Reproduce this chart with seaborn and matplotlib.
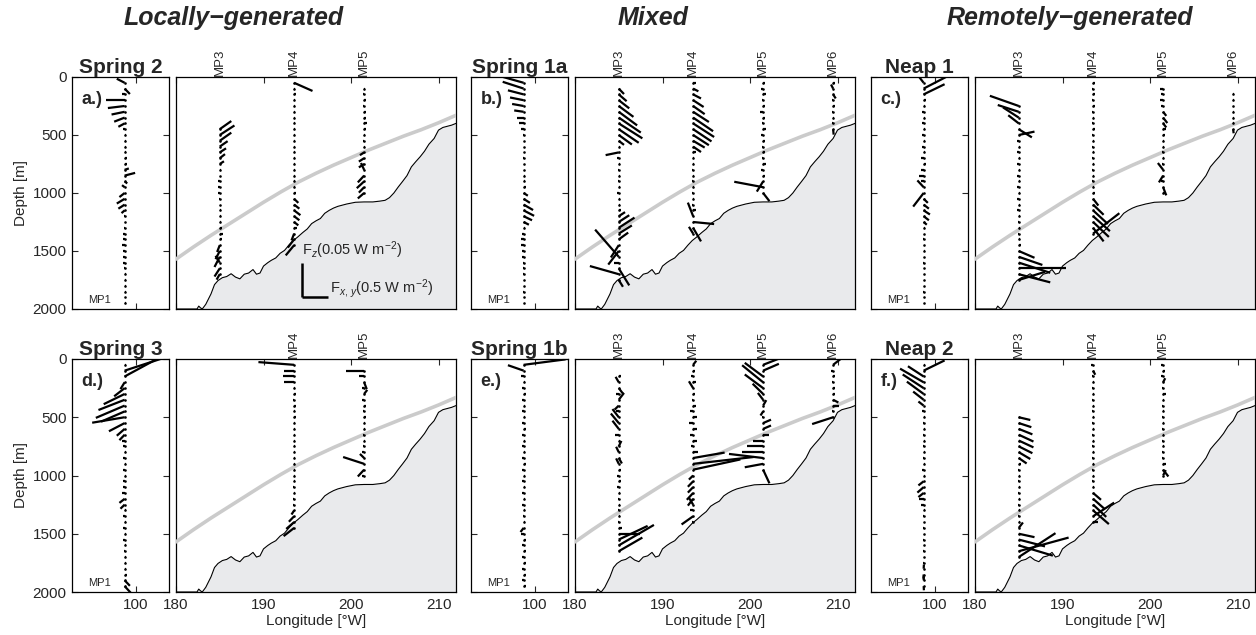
import numpy as np
import pandas as pd
import matplotlib
matplotlib.use("Agg")
import matplotlib.pyplot as plt
import matplotlib.transforms as mtransforms
import seaborn as sns

sns.set_style("ticks")
plt.rcParams["font.family"] = ["Liberation Sans", "DejaVu Sans"]
plt.rcParams["mathtext.fontset"] = "custom"
plt.rcParams["mathtext.rm"] = "Liberation Sans"
plt.rcParams["mathtext.it"] = "Liberation Sans:italic"
plt.rcParams["axes.linewidth"] = 0.9
plt.rcParams["axes.edgecolor"] = "black"

# ---------------------------------------------------------------- data
COLUMN_TITLES = ["Locally\u2212generated", "Mixed", "Remotely\u2212generated"]
PANEL_TITLES = ["Spring 2", "Spring 1a", "Neap 1", "Spring 3", "Spring 1b", "Neap 2"]
PANEL_LETTERS = ["a.)", "b.)", "c.)", "d.)", "e.)", "f.)"]

MOORING_LON = {"MP1": 98.7, "MP3": 185.0, "MP4": 193.5, "MP5": 201.5, "MP6": 209.5}
DZ = 50  # vertical spacing of flux estimates [m]

DEPTH_TICKS = [0, 500, 1000, 1500, 2000]
LON_TICKS = [180, 190, 200, 210]
MP1_TICKS = [100]

# bathymetry along the section
BATHY_LON = [180.0, 182.4, 182.6, 182.8, 183.0, 183.4, 184.0, 184.4, 184.8, 185.3,
             185.8, 186.3, 186.8, 187.3, 187.8, 188.3, 188.8, 189.2, 189.6, 190.0,
             190.5, 190.9, 191.4, 191.9, 192.4, 192.9, 193.4, 193.9, 194.5, 195.0,
             195.5, 196.0, 196.5, 197.0, 197.5, 198.0, 198.5, 199.5, 200.5, 201.5,
             202.5, 203.3, 203.9, 204.4, 204.9, 205.4, 205.9, 206.4, 206.9, 207.4,
             207.9, 208.4, 208.9, 209.5, 210.0, 210.5, 211.0, 211.5, 212.0]
BATHY_Z = [2000, 2000, 1975, 1990, 2000, 1960, 1870, 1790, 1755, 1730,
           1720, 1696, 1725, 1740, 1700, 1690, 1660, 1700, 1690, 1630,
           1600, 1580, 1560, 1520, 1495, 1450, 1410, 1380, 1340, 1310,
           1264, 1240, 1220, 1175, 1150, 1130, 1115, 1095, 1080, 1077,
           1077, 1070, 1063, 1040, 1000, 948, 900, 850, 775, 730,
           688, 640, 580, 530, 458, 435, 425, 415, 400]

# critical-slope characteristic (grey line)
CRIT_LON = [180, 182, 184, 186, 188, 190, 192, 194, 196, 198, 200, 202, 204, 206, 208, 210, 212]
CRIT_Z = [1570, 1465, 1365, 1270, 1175, 1080, 990, 905, 830, 760, 695, 630, 570, 510, 455, 395, 330]

# scale key: flux magnitudes and their drawn lengths
KEY_FX = 0.5      # W m^-2
KEY_FZ = 0.05     # W m^-2
KEY_FX_DEG = 3.0  # longitude degrees per KEY_FX
KEY_FZ_M = 293.0  # metres per KEY_FZ
KEY_ORIGIN = (194.4, 1900)

# ---- (a) Spring 2
A_MP1_FX = [-0.15, 0.10, -0.05, -0.35, -0.32, -0.25, -0.20, -0.12, -0.03, 0.02,
            0.03, 0.02, 0.03, 0.04, 0.05, 0.08, 0.20, 0.05, -0.05, -0.10,
            -0.15, -0.12, -0.06, -0.02, 0.01, -0.02, -0.03, -0.04, -0.05, -0.04,
            -0.04, -0.03, -0.02, 0.02, 0.02, 0.03, 0.02, 0.01, 0.02]
A_MP1_FZ = [0.006, -0.008, 0.0, 0.0, -0.003, -0.004, -0.006, -0.005, 0.0, 0.0,
            0.0, 0.0, 0.0, 0.0, 0.0, 0.002, 0.004, -0.003, 0.003, -0.006,
            -0.007, -0.006, -0.004, 0.0, 0.0, 0.0, 0.0, 0.0, 0.0, 0.0,
            0.0, 0.0, 0.0, 0.0, 0.0, 0.0, 0.0, 0.0, 0.0]
A_MP3_FX = [0.22, 0.28, 0.22, 0.15, 0.12, 0.10, 0.08, 0.03, 0.01, -0.03,
            -0.04, -0.03, -0.02, 0.01, 0.02, 0.02, 0.03, 0.04, 0.06, 0.05,
            -0.05, -0.08, -0.10, -0.08, -0.10, -0.06]
A_MP3_FZ = [0.012, 0.014, 0.012, 0.008, 0.006, 0.006, 0.004, 0.0, 0.0, 0.0,
            0.0, 0.0, 0.0, 0.0, 0.0, 0.0, 0.0, 0.0, 0.0, 0.0,
            -0.010, -0.012, -0.015, 0.010, -0.012, -0.008]
A_MP4_FX = [0.35, 0.02, 0.03, 0.02, 0.01, 0.01, 0.02, 0.02, 0.01, 0.01,
            0.01, 0.01, 0.02, 0.02, 0.01, 0.01, 0.01, 0.02, 0.02, 0.03,
            0.08, 0.10, 0.12, 0.10, 0.08, 0.05, -0.05, -0.12, -0.16]
A_MP4_FZ = [-0.012, 0.0, 0.0, 0.0, 0.0, 0.0, 0.0, 0.0, 0.0, 0.0,
            0.0, 0.0, 0.0, 0.0, 0.0, 0.0, 0.0, 0.0, 0.0, 0.0,
            -0.006, -0.006, -0.007, -0.006, -0.005, 0.0, -0.010, -0.012, -0.015]
A_MP5_FX = [0.02, -0.03, 0.03, -0.03, 0.04, 0.03, 0.05, 0.03, 0.02, -0.02,
            0.02, -0.08, -0.10, -0.10, -0.06, -0.12, -0.14, -0.10, -0.12]
A_MP5_FZ = [0.0, 0.0, 0.0, 0.0, 0.0, 0.0, 0.0, 0.0, 0.0, 0.0,
            0.0, -0.004, -0.005, -0.005, 0.010, -0.010, -0.010, -0.008, -0.008]

# ---- (b) Spring 1a
B_MP1_FX = [-0.55, -0.40, -0.30, -0.26, -0.22, -0.18, -0.12, -0.08, -0.06, -0.02,
            0.01, 0.01, 0.01, -0.01, 0.01, 0.01, 0.02, 0.03, 0.05, 0.08,
            0.12, 0.18, 0.20, 0.16, 0.10, 0.03, -0.04, -0.06, -0.05, -0.04,
            -0.03, -0.02, -0.02, -0.01, 0.01, 0.01, -0.01, 0.01, 0.01]
B_MP1_FZ = [0.012, 0.010, 0.006, 0.004, 0.003, 0.002, 0.0, 0.0, 0.0, 0.0,
            0.0, 0.0, 0.0, 0.0, 0.0, 0.0, 0.0, 0.0, 0.0, -0.004,
            -0.006, -0.008, -0.008, -0.006, -0.004, 0.0, 0.0, 0.0, 0.0, 0.0,
            0.0, 0.0, 0.0, 0.0, 0.0, 0.0, 0.0, 0.0, 0.0]
B_MP3_FX = [0.10, 0.15, 0.20, 0.28, 0.35, 0.42, 0.45, 0.38, 0.25, 0.10,
            0.02, -0.25, -0.04, 0.02, -0.02, 0.03, -0.02, 0.02, -0.03, 0.02,
            0.03, 0.05, 0.12, 0.20, 0.30, 0.25, 0.18, -0.15, -0.20, -0.45,
            -0.10, 0.20, -0.55, 0.08]
B_MP3_FZ = [-0.008, -0.010, -0.012, -0.016, -0.020, -0.022, -0.022, -0.020, -0.014, -0.006,
            0.0, -0.004, 0.0, 0.0, 0.0, 0.0, 0.0, 0.0, 0.0, 0.0,
            0.0, 0.0, 0.006, 0.010, 0.015, 0.012, 0.010, -0.018, -0.020, 0.040,
            0.0, -0.025, 0.012, -0.010]
B_MP4_FX = [0.05, 0.10, 0.15, 0.20, 0.22, 0.30, 0.38, 0.40, 0.35, 0.30,
            0.22, 0.15, 0.05, 0.02, 0.01, -0.02, 0.02, -0.02, 0.02, -0.02,
            0.02, -0.02, 0.05, -0.10, 0.40, 0.15, -0.08]
B_MP4_FZ = [0.0, -0.004, -0.006, -0.010, -0.012, -0.015, -0.020, -0.020, -0.018, -0.015,
            -0.010, -0.008, 0.0, 0.0, 0.0, 0.0, 0.0, 0.0, 0.0, 0.0,
            0.0, 0.0, 0.0, 0.020, -0.003, -0.020, 0.010]
B_MP5_FX = [0.03, -0.04, 0.05, -0.03, 0.04, -0.05, 0.03, -0.03, 0.05, -0.04,
            0.03, -0.03, 0.04, -0.03, 0.05, -0.04, 0.03, -0.12, -0.55, 0.12]
B_MP5_FZ = [0.0, 0.0, 0.0, 0.0, 0.0, 0.0, 0.0, 0.0, 0.0, 0.0,
            0.0, 0.0, 0.0, 0.0, 0.0, 0.0, 0.0, -0.015, 0.008, -0.012]
B_MP6_FX = [0.03, -0.04, 0.05, -0.03, 0.04, -0.03, 0.02, -0.02, 0.01]
B_MP6_FZ = [0.0, 0.006, -0.006, 0.0, 0.0, 0.0, 0.0, 0.0, -0.008]

# ---- (c) Neap 1
C_MP1_FX = [-0.10, 0.50, 0.40, 0.05, 0.03, -0.03, 0.02, -0.04, 0.03, -0.03,
            0.02, -0.04, 0.03, -0.05, 0.04, -0.06, -0.08, -0.05, -0.12, -0.20,
            0.08, 0.10, 0.12, 0.10, 0.06, 0.03, 0.01, -0.02, 0.01, 0.02,
            0.01, -0.02, 0.01, 0.01, 0.01, 0.01, -0.01, 0.01, 0.01]
C_MP1_FZ = [0.010, 0.020, 0.015, 0.0, 0.0, 0.0, 0.0, 0.0, 0.0, 0.0,
            0.0, 0.0, 0.0, 0.0, 0.0, 0.0, 0.0, 0.0, 0.010, -0.020,
            -0.006, -0.006, -0.006, -0.006, -0.004, 0.0, 0.0, 0.0, 0.0, 0.0,
            0.0, 0.0, 0.0, 0.0, 0.0, 0.0, 0.0, 0.0, 0.0]
C_MP3_FX = [-0.55, -0.40, -0.30, -0.20, 0.25, 0.30, -0.04, 0.03, -0.04, 0.03,
            -0.04, 0.03, -0.04, 0.03, -0.04, 0.03, -0.04, 0.03, -0.03, 0.02,
            -0.02, 0.02, -0.02, 0.02, 0.05, 0.30, 0.45, 0.60, 0.90, 0.60,
            0.50]
C_MP3_FZ = [0.015, 0.010, 0.015, 0.012, -0.012, 0.005, 0.0, 0.0, 0.0, 0.0,
            0.0, 0.0, 0.0, 0.0, 0.0, 0.0, 0.0, 0.0, 0.0, 0.0,
            0.0, 0.0, 0.0, 0.0, 0.0, -0.010, -0.012, -0.015, 0.0, -0.012,
            0.012]
C_MP4_FX = [0.03, -0.03, 0.04, -0.02, 0.03, -0.03, 0.02, -0.02, 0.03, -0.02,
            0.02, -0.02, 0.02, -0.02, 0.02, -0.02, 0.02, -0.02, 0.02, 0.03,
            0.10, 0.20, 0.28, 0.32, 0.30, 0.20, 0.50]
C_MP4_FZ = [0.0, 0.0, 0.0, 0.0, 0.0, 0.0, 0.0, 0.0, 0.0, 0.0,
            0.0, 0.0, 0.0, 0.0, 0.0, 0.0, 0.0, 0.0, 0.0, 0.0,
            -0.010, -0.015, -0.020, -0.022, -0.022, -0.020, 0.030]
C_MP5_FX = [-0.06, -0.05, -0.06, -0.05, 0.06, 0.08, 0.06, 0.05, 0.04, 0.02,
            0.01, -0.02, 0.02, -0.02, -0.10, -0.08, -0.05, 0.06, 0.04]
C_MP5_FZ = [0.0, 0.0, 0.0, 0.0, -0.006, -0.008, -0.006, 0.0, 0.0, 0.0,
            0.0, 0.0, 0.0, 0.0, 0.010, -0.010, 0.0, -0.012, 0.0]
C_MP6_FX = [0.01, 0.01, -0.01, 0.01, 0.01, 0.01, 0.01]
C_MP6_FZ = [0.0, 0.0, 0.0, 0.0, 0.0, 0.0, -0.006]

# ---- (d) Spring 3
D_MP1_FX = [0.02, 0.80, 0.72, -0.08, -0.20, -0.40, -0.50, -0.55, -0.45, -0.62,
            -0.30, -0.15, -0.10, -0.06, -0.03, 0.02, -0.03, 0.03, -0.04, 0.03,
            -0.04, -0.03, -0.05, -0.10, -0.08, 0.02, -0.03, 0.02, -0.03, 0.02,
            -0.03, 0.02, -0.02, 0.02, 0.03, 0.02, 0.04, 0.10, 0.12]
D_MP1_FZ = [0.0, 0.020, 0.030, -0.010, -0.012, -0.015, -0.015, -0.018, -0.015, -0.008,
            -0.012, -0.010, -0.008, 0.0, 0.0, 0.0, 0.0, 0.0, 0.0, 0.0,
            0.0, 0.0, 0.0, -0.006, -0.006, 0.0, 0.0, 0.0, 0.0, 0.0,
            0.0, 0.0, 0.0, 0.0, 0.0, 0.0, 0.0, -0.008, -0.010]
D_MP4_FX = [-0.68, -0.20, -0.22, -0.20, 0.02, 0.03, -0.02, 0.03, 0.02, 0.03,
            0.02, 0.02, 0.01, 0.02, 0.01, 0.02, 0.02, 0.01, 0.02, 0.01,
            0.02, -0.02, 0.01, -0.02, -0.03, -0.05, -0.10, -0.15, -0.20]
D_MP4_FZ = [0.004, 0.0, 0.0, 0.0, 0.0, 0.0, 0.0, 0.0, 0.0, 0.0,
            0.0, 0.0, 0.0, 0.0, 0.0, 0.0, 0.0, 0.0, 0.0, 0.0,
            0.0, 0.0, 0.0, 0.0, 0.0, -0.006, -0.008, -0.010, -0.012]
D_MP5_FX = [-0.35, -0.10, 0.05, -0.04, 0.06, -0.05, 0.03, -0.02, 0.03, 0.01,
            0.02, -0.02, 0.02, -0.03, -0.05, -0.08, -0.40, -0.12, -0.05]
D_MP5_FZ = [0.0, 0.0, -0.010, 0.0, 0.006, 0.0, 0.0, 0.0, 0.0, 0.0,
            0.0, 0.0, 0.0, 0.0, 0.0, 0.006, 0.010, -0.010, 0.0]

# ---- (e) Spring 1b
E_MP1_FX = [0.80, -0.30, -0.05, 0.03, -0.03, 0.04, -0.03, 0.03, -0.04, 0.03,
            -0.03, 0.04, -0.03, 0.03, -0.04, 0.03, -0.03, 0.04, -0.03, 0.03,
            -0.04, 0.03, -0.03, 0.03, -0.03, 0.02, -0.02, 0.02, -0.06, -0.05,
            0.04, -0.04, 0.05, -0.04, 0.05, -0.04, 0.05, -0.04, 0.04]
E_MP1_FZ = [0.008, 0.008, 0.0, 0.0, 0.0, 0.0, 0.0, 0.0, 0.0, 0.0,
            0.0, 0.0, 0.0, 0.0, 0.0, 0.0, 0.0, 0.0, 0.0, 0.0,
            0.0, 0.0, 0.0, 0.0, 0.0, 0.0, 0.0, 0.0, -0.006, 0.0,
            0.0, 0.0, 0.0, 0.0, 0.0, 0.0, 0.0, 0.0, 0.0]
E_MP3_FX = [0.04, -0.06, 0.08, -0.06, 0.10, -0.08, -0.05, -0.12, -0.15, -0.12,
            -0.08, 0.02, 0.05, -0.05, 0.06, -0.05, 0.04, -0.04, 0.05, -0.03,
            0.02, -0.02, 0.02, -0.02, 0.02, -0.02, 0.06, 0.40, 0.55, 0.67,
            0.45]
E_MP3_FZ = [0.0, 0.008, -0.008, 0.0, 0.010, -0.006, 0.0, 0.012, 0.014, 0.012,
            0.0, 0.0, 0.008, 0.008, -0.008, 0.008, 0.0, 0.0, 0.0, 0.0,
            0.0, 0.0, 0.0, 0.0, 0.0, 0.0, 0.0, 0.0, 0.020, 0.030,
            0.020]
E_MP4_FX = [0.06, 0.04, -0.04, 0.05, -0.08, 0.04, -0.03, 0.06, -0.06, 0.08,
            -0.07, 0.08, -0.06, 0.08, -0.05, 0.10, 0.60, 1.15, 0.90, -0.08,
            -0.10, -0.10, -0.12, -0.10, -0.08, -0.06, -0.22, -0.02]
E_MP4_FZ = [0.006, 0.0, 0.0, 0.0, 0.010, 0.0, 0.0, 0.0, 0.0, 0.0,
            0.0, 0.0, 0.0, 0.0, 0.0, 0.0, 0.008, 0.010, 0.015, -0.006,
            -0.008, -0.008, -0.010, -0.010, 0.010, 0.0, -0.012, 0.0]
E_MP5_FX = [0.40, 0.30, -0.35, -0.40, -0.35, -0.20, -0.10, 0.06, -0.05, -0.03,
            0.15, 0.15, 0.12, -0.20, -0.30, -0.40, -0.65, -0.35, 0.12]
E_MP5_FZ = [0.012, 0.010, 0.020, 0.025, 0.020, 0.015, 0.010, 0.008, -0.006, 0.0,
            0.005, 0.005, 0.0, 0.0, 0.0, 0.0, 0.006, -0.005, -0.020]
E_MP6_FX = [0.25, -0.04, 0.03, -0.02, 0.03, 0.04, 0.10, 0.12, -0.02, -0.40]
E_MP6_FZ = [0.015, 0.0, 0.0, 0.0, 0.0, 0.0, -0.004, 0.0, 0.0, -0.010]

# ---- (f) Neap 2
F_MP1_FX = [0.02, 0.40, -0.30, -0.45, -0.40, -0.32, -0.20, -0.10, -0.04, 0.02,
            -0.02, 0.02, -0.02, 0.02, -0.02, 0.02, -0.02, 0.02, -0.03, 0.02,
            -0.10, -0.12, -0.10, -0.08, -0.05, 0.02, -0.02, 0.01, -0.02, 0.01,
            -0.01, 0.01, -0.01, 0.01, -0.01, 0.005, -0.005, 0.005, 0.005]
F_MP1_FZ = [0.0, 0.015, 0.015, 0.020, 0.020, 0.018, 0.012, 0.006, 0.0, 0.0,
            0.0, 0.0, 0.0, 0.0, 0.0, 0.0, 0.0, 0.0, 0.0, 0.0,
            -0.006, -0.008, -0.006, 0.0, 0.0, 0.0, 0.0, 0.0, 0.0, 0.0,
            0.0, 0.0, 0.0, 0.0, 0.0, 0.006, -0.006, 0.006, -0.006]
F_MP3_FX = [0.22, 0.24, 0.26, 0.28, 0.28, 0.26, 0.22, 0.15, 0.05, -0.02,
            0.02, -0.02, 0.02, -0.02, 0.02, -0.02, 0.02, -0.02, 0.02, 0.08,
            0.30, 0.50, 0.65, 0.95, 0.70]
F_MP3_FZ = [-0.004, -0.006, -0.008, -0.010, -0.010, -0.010, -0.010, -0.008, 0.0, 0.0,
            0.0, 0.0, 0.0, 0.0, 0.0, 0.0, 0.0, 0.0, 0.0, 0.008,
            -0.005, -0.010, -0.015, 0.020, 0.035]
F_MP4_FX = [-0.05, 0.04, -0.03, 0.02, -0.02, 0.02, -0.02, 0.02, -0.02, 0.02,
            -0.02, 0.02, -0.02, 0.02, -0.02, 0.02, -0.02, 0.02, -0.02, 0.02,
            -0.02, 0.02, 0.15, 0.22, 0.25, 0.30, 0.40, 0.10]
F_MP4_FZ = [0.0, -0.006, 0.0, 0.0, 0.0, 0.0, 0.0, 0.0, 0.0, 0.0,
            0.0, 0.0, 0.0, 0.0, 0.0, 0.0, 0.0, 0.0, 0.0, 0.0,
            0.0, 0.0, -0.010, -0.015, -0.018, -0.020, 0.020, 0.0]
F_MP5_FX = [-0.04, 0.03, -0.05, 0.04, -0.03, 0.05, 0.02, -0.02, 0.02, -0.02,
            0.02, -0.02, 0.02, -0.02, 0.02, -0.02, -0.03, 0.05, 0.10, 0.05]
F_MP5_FZ = [0.0, 0.0, 0.0, 0.006, 0.0, 0.0, 0.0, 0.0, 0.0, 0.0,
            0.0, 0.0, 0.0, 0.0, 0.0, 0.0, 0.0, 0.0, -0.010, 0.008]

# (mooring, shallowest estimate [m], Fx, Fz) for each panel
PANEL_PROFILES = [
    [("MP1", 50, A_MP1_FX, A_MP1_FZ), ("MP3", 450, A_MP3_FX, A_MP3_FZ),
     ("MP4", 50, A_MP4_FX, A_MP4_FZ), ("MP5", 100, A_MP5_FX, A_MP5_FZ)],
    [("MP1", 50, B_MP1_FX, B_MP1_FZ), ("MP3", 100, B_MP3_FX, B_MP3_FZ),
     ("MP4", 50, B_MP4_FX, B_MP4_FZ), ("MP5", 50, B_MP5_FX, B_MP5_FZ),
     ("MP6", 50, B_MP6_FX, B_MP6_FZ)],
    [("MP1", 50, C_MP1_FX, C_MP1_FZ), ("MP3", 250, C_MP3_FX, C_MP3_FZ),
     ("MP4", 50, C_MP4_FX, C_MP4_FZ), ("MP5", 100, C_MP5_FX, C_MP5_FZ),
     ("MP6", 150, C_MP6_FX, C_MP6_FZ)],
    [("MP1", 50, D_MP1_FX, D_MP1_FZ), ("MP4", 50, D_MP4_FX, D_MP4_FZ),
     ("MP5", 100, D_MP5_FX, D_MP5_FZ)],
    [("MP1", 50, E_MP1_FX, E_MP1_FZ), ("MP3", 150, E_MP3_FX, E_MP3_FZ),
     ("MP4", 50, E_MP4_FX, E_MP4_FZ), ("MP5", 50, E_MP5_FX, E_MP5_FZ),
     ("MP6", 50, E_MP6_FX, E_MP6_FZ)],
    [("MP1", 50, F_MP1_FX, F_MP1_FZ), ("MP3", 500, F_MP3_FX, F_MP3_FZ),
     ("MP4", 50, F_MP4_FX, F_MP4_FZ), ("MP5", 50, F_MP5_FX, F_MP5_FZ)],
]

DEG_PER_FX = KEY_FX_DEG / KEY_FX
M_PER_FZ = KEY_FZ_M / KEY_FZ


def stick_table(profiles):
    rows = []
    for name, top, fx, fz in profiles:
        lon = MOORING_LON[name]
        for i, (u, w) in enumerate(zip(fx, fz)):
            z = top + DZ * i
            sid = f"{name}-{i}"
            rows.append((sid, name, lon, z, 0))
            rows.append((sid, name, lon + u * DEG_PER_FX, z - w * M_PER_FZ, 1))
    return pd.DataFrame(rows, columns=["stick", "mooring", "lon", "depth", "end"])


def draw_sticks(ax, table):
    sns.lineplot(data=table, x="lon", y="depth", units="stick", estimator=None,
                 sort=False, color="black", lw=1.6, legend=False, ax=ax,
                 solid_capstyle="butt", zorder=4)
    base = table[table["end"] == 0]
    sns.scatterplot(data=base, x="lon", y="depth", s=3.5, color="black",
                    linewidth=0, legend=False, ax=ax, zorder=5)
    ax.set_xlabel("")
    ax.set_ylabel("")


# ---------------------------------------------------------------- layout
W, H = 1256, 635
fig = plt.figure(figsize=(W / 100, H / 100), dpi=100)

NARROW_X = [72, 471, 871]
BIG_X = [176, 575, 975]
NARROW_W, BIG_W = 97, 280
ROW_Y = [77, 359]
ROW_H = [232, 233]
NARROW_XLIM = (92.67, 103.78)


def rect(x, y, w, h):
    return [x / W, 1 - (y + h) / H, w / W, h / H]


TICK_KW = dict(direction="in", length=4, width=0.8, labelsize=11, pad=4)

for k in range(6):
    r, c = divmod(k, 3)
    table = stick_table(PANEL_PROFILES[k])

    # MP1 profile (deep-water mooring)
    axn = fig.add_axes(rect(NARROW_X[c], ROW_Y[r], NARROW_W, ROW_H[r]))
    draw_sticks(axn, table[table["mooring"] == "MP1"])
    axn.set_xlim(*NARROW_XLIM)
    axn.set_ylim(2000, 0)
    axn.set_xticks(MP1_TICKS)
    axn.set_yticks(DEPTH_TICKS)
    axn.tick_params(top=True, right=True, **TICK_KW)
    if r == 0:
        axn.set_xticklabels([])
    if c != 0:
        axn.set_yticklabels([])
    else:
        axn.set_ylabel("Depth [m]", fontsize=11, labelpad=3)
    axn.set_title(PANEL_TITLES[k], fontsize=15, fontweight="bold", pad=3)
    axn.text(0.10, 0.905, PANEL_LETTERS[k], transform=axn.transAxes,
             fontsize=13, fontweight="bold", va="center", ha="left", zorder=6)
    axn.text(0.165, 0.018, "MP1", transform=axn.transAxes, fontsize=8,
             va="bottom", ha="left")

    # slope section
    axb = fig.add_axes(rect(BIG_X[c], ROW_Y[r], BIG_W, ROW_H[r]))
    axb.fill_between(BATHY_LON, BATHY_Z, 2000, color="#e9eaec", lw=0, zorder=1)
    sns.lineplot(x=BATHY_LON, y=BATHY_Z, sort=False, estimator=None,
                 color="black", lw=0.8, ax=axb, zorder=2)
    sns.lineplot(x=CRIT_LON, y=CRIT_Z, sort=False, estimator=None,
                 color="#cbcbcb", lw=2.6, ax=axb, zorder=3)
    draw_sticks(axb, table[table["mooring"] != "MP1"])
    axb.set_xlim(180, 212)
    axb.set_ylim(2000, 0)
    axb.set_xticks(LON_TICKS)
    axb.set_yticks([])
    axb.tick_params(top=True, **TICK_KW)
    if r == 0:
        axb.set_xticklabels([])
    else:
        axb.set_xlabel("Longitude [\u00b0W]", fontsize=11, labelpad=2)

    trans = mtransforms.blended_transform_factory(axb.transData, axb.transAxes)
    for name in dict.fromkeys(table.loc[table["mooring"] != "MP1", "mooring"]):
        axb.text(MOORING_LON[name], 1.005, name, transform=trans, rotation=90,
                 fontsize=9.5, ha="center", va="bottom")

    if k == 0:
        x0, z0 = KEY_ORIGIN
        axb.plot([x0, x0], [z0, z0 - KEY_FZ * M_PER_FZ], color="black", lw=1.8,
                 solid_capstyle="butt", zorder=6)
        axb.plot([x0, x0 + KEY_FX * DEG_PER_FX], [z0, z0], color="black", lw=1.8,
                 solid_capstyle="butt", zorder=6)
        axb.text(x0, z0 - KEY_FZ * M_PER_FZ - 20,
                 f"F$_z$({KEY_FZ:g} W m$^{{-2}}$)", fontsize=10.5,
                 ha="left", va="bottom", zorder=6)
        axb.text(x0 + KEY_FX * DEG_PER_FX + 0.2, z0 - 80,
                 f"F$_{{x,\\,y}}$({KEY_FX:g} W m$^{{-2}}$)", fontsize=10.5,
                 ha="left", va="center", zorder=6)

# column headings
for x, title in zip([234, 653, 1070], COLUMN_TITLES):
    fig.text(x / W, 1 - 18 / H, title, fontsize=18, fontweight="bold",
             fontstyle="italic", ha="center", va="center")

fig.savefig("out.png", dpi=100)
